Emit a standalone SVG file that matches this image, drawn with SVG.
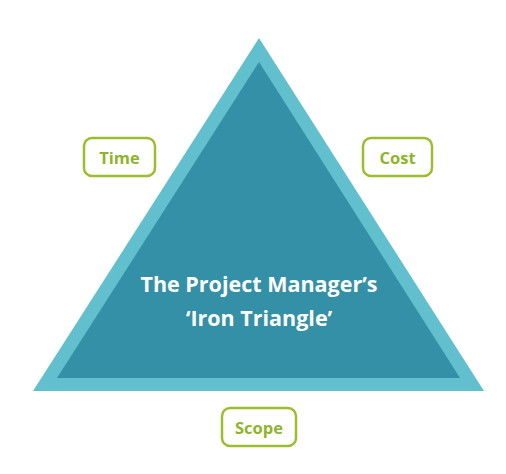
<svg xmlns="http://www.w3.org/2000/svg" width="506" height="474" viewBox="0 0 506 474">
<style>
.lbl{fill:#fff;stroke:#9bbd2e;stroke-width:2.5}
.lt{font-family:"Open Sans","Liberation Sans",sans-serif;font-weight:bold;font-size:16.5px;fill:#8fb42a;text-anchor:middle}
.title{font-family:"Open Sans","Liberation Sans",sans-serif;font-weight:bold;font-size:21.5px;fill:#fff;text-anchor:middle}
</style>
<rect width="506" height="474" fill="#fff"/>
<g id="triangle">
<polygon points="259,38 484,391 33,391" fill="#62bfce"/>
<polygon points="259,62 460,378 57,378" fill="#3390a6"/>
<text class="title" x="259" y="292">The Project Manager’s</text>
<text class="title" x="259" y="326">‘Iron Triangle’</text>
</g>
<g id="time">
<rect class="lbl" x="84" y="138" width="71" height="38" rx="8"/>
<text class="lt" x="119.5" y="164">Time</text>
</g>
<g id="cost">
<rect class="lbl" x="363" y="138" width="69" height="38" rx="8"/>
<text class="lt" x="397.5" y="164">Cost</text>
</g>
<g id="scope">
<rect class="lbl" x="222" y="408" width="74" height="38" rx="8"/>
<text class="lt" x="259" y="434">Scope</text>
</g>
<g id="connectors"/>
</svg>
